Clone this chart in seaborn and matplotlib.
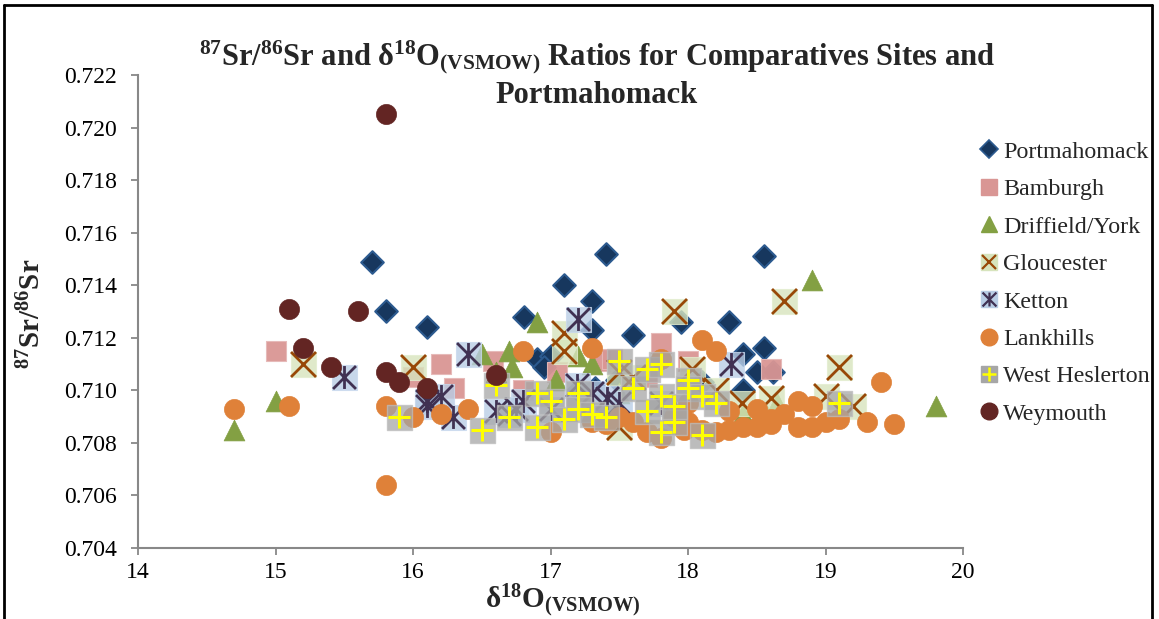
import numpy as np
import pandas as pd
import matplotlib
matplotlib.use("Agg")
import matplotlib.pyplot as plt
import seaborn as sns
from matplotlib.path import Path
from matplotlib.lines import Line2D
from matplotlib.legend_handler import HandlerTuple

# ---------------- data ----------------
port_x = [15.7, 15.8, 16.1, 16.81, 16.9, 17.0, 17.1, 17.3, 17.3, 17.4, 17.6, 17.95, 18.3, 18.4,
          18.55, 18.55, 18.5, 18.62, 18.4, 17.2, 17.48, 16.95, 18.1, 17.32, 17.4]
port_y = [0.7149, 0.7130, 0.7124, 0.7128, 0.7112, 0.7113, 0.7140, 0.7134, 0.7123, 0.7152, 0.7121,
          0.7126, 0.7126, 0.7114, 0.7116, 0.7151, 0.7107, 0.7107, 0.7100, 0.7100, 0.7104, 0.7109,
          0.7103, 0.7101, 0.7096]

bamb_x = [15.0, 16.2, 16.0, 16.58, 16.8, 17.05, 17.36, 17.45, 17.8, 18.0, 18.6, 17.7, 16.3]
bamb_y = [0.7115, 0.7110, 0.7105, 0.7111, 0.7100, 0.7107, 0.7111, 0.7112, 0.7118, 0.7111,
          0.7108, 0.7105, 0.7101]

drif_x = [14.7, 15.0, 16.5, 16.7, 16.72, 16.9, 17.04, 17.2, 17.3, 16.6, 17.5, 18.4, 18.57,
          18.65, 18.9, 19.8, 17.9]
drif_y = [0.7085, 0.7096, 0.7114, 0.7115, 0.7109, 0.7126, 0.7104, 0.7113, 0.7110, 0.7107,
          0.7099, 0.7091, 0.7091, 0.7095, 0.7142, 0.7094, 0.7093]

glou_x = [15.2, 16.0, 17.1, 17.1, 17.5, 17.6, 17.5, 17.9, 18.03, 18.2, 18.39, 18.6, 18.7,
          19.0, 19.1, 19.2, 17.3]
glou_y = [0.7110, 0.7109, 0.7122, 0.7115, 0.7107, 0.7105, 0.7086, 0.7130, 0.7108, 0.7100,
          0.7095, 0.7097, 0.7134, 0.7098, 0.7109, 0.7094, 0.7095]

kett_x = [15.5, 16.1, 16.2, 16.1, 16.29, 16.4, 16.6, 16.7, 16.8, 16.75, 17.19, 17.2, 17.41,
          17.5, 17.3, 18.31, 17.0, 17.8]
kett_y = [0.7105, 0.7096, 0.7098, 0.7094, 0.7090, 0.7114, 0.7092, 0.7091, 0.7096, 0.7093,
          0.7102, 0.7127, 0.7097, 0.7095, 0.7099, 0.7110, 0.7093, 0.7095]

lank_x = [14.7, 15.1, 15.8, 15.8, 16.0, 16.2, 16.4, 16.8, 17.0, 17.3, 17.3, 17.5, 17.6, 17.7,
          17.8, 17.8, 17.97, 18.1, 18.2, 18.1, 18.2, 18.3, 18.4, 18.5, 18.5, 18.6, 18.7, 18.8,
          18.8, 18.9, 18.9, 19.0, 19.1, 19.3, 19.4, 19.5, 18.0, 17.9, 18.3, 18.6, 18.0, 17.4]
lank_y = [0.7093, 0.7094, 0.7094, 0.7064, 0.7090, 0.7091, 0.7093, 0.7115, 0.7084, 0.7116,
          0.7088, 0.7090, 0.7088, 0.7084, 0.7082, 0.7112, 0.7085, 0.7119, 0.7115, 0.7085,
          0.7084, 0.7085, 0.7086, 0.7086, 0.7093, 0.7089, 0.7091, 0.7096, 0.7086, 0.7094,
          0.7086, 0.7088, 0.7089, 0.7088, 0.7103, 0.7087, 0.7088, 0.7090, 0.7092, 0.7087,
          0.7095, 0.7087]

west_x = [15.9, 16.5, 16.6, 16.7, 16.9, 16.9, 17.0, 17.1, 17.2, 17.2, 17.3, 17.5, 17.6, 17.7,
          17.8, 17.8, 17.8, 17.9, 18.0, 18.0, 18.1, 18.1, 18.2, 19.1, 17.7, 17.9, 17.4]
west_y = [0.7090, 0.7085, 0.7102, 0.7090, 0.7099, 0.7086, 0.7096, 0.7089, 0.7099, 0.7093,
          0.7091, 0.7111, 0.7101, 0.7108, 0.7110, 0.7098, 0.7084, 0.7088, 0.7104, 0.7101,
          0.7098, 0.7083, 0.7095, 0.7095, 0.7092, 0.7094, 0.7090]

weym_x = [15.1, 15.2, 15.4, 15.6, 15.8, 15.8, 15.9, 16.1, 16.6]
weym_y = [0.7131, 0.7116, 0.7109, 0.7130, 0.7205, 0.7107, 0.7103, 0.7101, 0.7106]

site_labels = ["Portmahomack", "Bamburgh", "Driffield/York", "Gloucester", "Ketton",
               "Lankhills", "West Heslerton", "Weymouth"]
x_ticks = [14, 15, 16, 17, 18, 19, 20]
y_ticks = [0.704, 0.706, 0.708, 0.710, 0.712, 0.714, 0.716, 0.718, 0.720, 0.722]

# ---------------- style ----------------
sns.set_style("ticks")
plt.rcParams["font.family"] = ["Liberation Serif", "DejaVu Serif"]
plt.rcParams["mathtext.fontset"] = "custom"
plt.rcParams["mathtext.rm"] = "Liberation Serif"
plt.rcParams["mathtext.it"] = "Liberation Serif:italic"
plt.rcParams["mathtext.bf"] = "Liberation Serif:bold"

C_PORT, C_PORT_E = "#17375E", "#2C5A8F"
C_BAMB = "#D99694"
C_DRIF = "#83A043"
C_GLOU_F, C_GLOU_X = "#D7E4BD", "#984807"
C_KETT_F, C_KETT_X = "#B9CDE5", "#403152"
C_LANK = "#DF8139"
C_WEST_F, C_WEST_X = "#A6A6A6", "#FFFF00"
C_WEYM = "#632523"

ast_path = Path([(0, -1), (0, 1), (-1, -1), (1, 1), (-1, 1), (1, -1)],
                [Path.MOVETO, Path.LINETO] * 3)

fig = plt.figure(figsize=(11.59, 6.19), dpi=100)
W, H = 1159, 619
ax = fig.add_axes([138 / W, 1 - 548 / H, (963 - 138) / W, (548 - 75) / H])

BIG = 18.0 ** 2
SMALL = 14.5 ** 2


def df(x, y):
    return pd.DataFrame({"d18O": x, "Sr": y})


sns.scatterplot(data=df(port_x, port_y), x="d18O", y="Sr", marker="D", s=11.5 ** 2,
                color=C_PORT, edgecolor=C_PORT_E, linewidth=1.5, ax=ax, zorder=3)
sns.scatterplot(data=df(bamb_x, bamb_y), x="d18O", y="Sr", marker="s", s=SMALL,
                color=C_BAMB, edgecolor="#E6B9B8", linewidth=0.8, alpha=0.95, ax=ax, zorder=4)
sns.scatterplot(data=df(drif_x, drif_y), x="d18O", y="Sr", marker="^", s=15 ** 2,
                color=C_DRIF, edgecolor=C_DRIF, linewidth=0.5, ax=ax, zorder=5)
sns.scatterplot(data=df(glou_x, glou_y), x="d18O", y="Sr", marker="s", s=BIG,
                color=C_GLOU_F, edgecolor="#E3EDCF", linewidth=0.8, alpha=0.8, ax=ax, zorder=6)
sns.scatterplot(data=df(glou_x, glou_y), x="d18O", y="Sr", marker="x", s=BIG,
                color=C_GLOU_X, linewidth=2.0, ax=ax, zorder=6)
sns.scatterplot(data=df(kett_x, kett_y), x="d18O", y="Sr", marker="s", s=BIG,
                color=C_KETT_F, edgecolor="#C9D9EE", linewidth=0.8, alpha=0.8, ax=ax, zorder=7)
sns.scatterplot(data=df(kett_x, kett_y), x="d18O", y="Sr", marker=ast_path, s=(16.5) ** 2,
                color=C_KETT_X, edgecolor=C_KETT_X, linewidth=2.0, ax=ax, zorder=7)
sns.scatterplot(data=df(lank_x, lank_y), x="d18O", y="Sr", marker="o", s=SMALL,
                color=C_LANK, edgecolor=C_LANK, linewidth=0.5, ax=ax, zorder=8)
sns.scatterplot(data=df(west_x, west_y), x="d18O", y="Sr", marker="s", s=BIG,
                color=C_WEST_F, edgecolor="#BDBDBD", linewidth=1.0, alpha=0.75, ax=ax, zorder=9)
sns.scatterplot(data=df(west_x, west_y), x="d18O", y="Sr", marker="+", s=(16) ** 2,
                color=C_WEST_X, linewidth=2.2, ax=ax, zorder=9)
sns.scatterplot(data=df(weym_x, weym_y), x="d18O", y="Sr", marker="o", s=SMALL,
                color=C_WEYM, edgecolor=C_WEYM, linewidth=0.5, ax=ax, zorder=10)

ax.set_xlim(14, 20)
ax.set_ylim(0.704, 0.722)
ax.set_xticks(x_ticks)
ax.set_xticklabels([str(t) for t in x_ticks])
ax.set_yticks(y_ticks)
ax.set_yticklabels([f"{t:.3f}" for t in y_ticks])
for s in ["top", "right"]:
    ax.spines[s].set_visible(False)
for s in ["left", "bottom"]:
    ax.spines[s].set_color("#888888")
    ax.spines[s].set_linewidth(1.5)
ax.tick_params(axis="both", direction="out", length=5, width=1.3, color="#888888",
               labelsize=17, labelcolor="black")
ax.tick_params(axis="y", pad=10)
ax.tick_params(axis="x", pad=5)
ax.set_xlabel("")
ax.set_ylabel("")

fig.text(563 / W, 1 - 601 / H, r"δ$^{\mathbf{18}}$O$_{\mathbf{(VSMOW)}}$", ha="center", va="center",
         fontsize=21, fontweight="bold")
fig.text(32 / W, 1 - 314 / H, r"$^{\mathbf{87}}$Sr/$^{\mathbf{86}}$Sr", ha="center", va="center",
         rotation=90, fontsize=21, fontweight="bold")

title = (r"$^{\mathbf{87}}$Sr/$^{\mathbf{86}}$Sr and δ$^{\mathbf{18}}$O$_{\mathbf{(VSMOW)}}$ "
         r"Ratios for Comparatives Sites and" + "\nPortmahomack")
fig.text(597 / W, 1 - 74 / H, title, ha="center", va="center", fontsize=22,
         fontweight="bold", linespacing=1.2)

# legend
def ml(marker, size, fc, ec, lw=1.0, alpha=1.0):
    return Line2D([], [], linestyle="none", marker=marker, markersize=size,
                  markerfacecolor=fc, markeredgecolor=ec, markeredgewidth=lw, alpha=alpha)

handles = [
    ml("D", 9, C_PORT, C_PORT_E, 1.2),
    ml("s", 11, C_BAMB, C_BAMB),
    ml("^", 11, C_DRIF, C_DRIF),
    (ml("s", 11, C_GLOU_F, C_GLOU_F), ml("x", 10, C_GLOU_X, C_GLOU_X, 1.6)),
    (ml("s", 11, C_KETT_F, C_KETT_F), ml(ast_path, 10, C_KETT_X, C_KETT_X, 1.6)),
    ml("o", 12, C_LANK, C_LANK),
    (ml("s", 11, C_WEST_F, C_WEST_F), ml("+", 10, C_WEST_X, C_WEST_X, 1.8)),
    ml("o", 12, C_WEYM, C_WEYM),
]
fig.legend(handles, site_labels, loc="upper left", bbox_to_anchor=(979 / W, 1 - 141 / H),
           frameon=False, fontsize=17.3, handlelength=0.8, handletextpad=0.2,
           labelspacing=0.65, borderpad=0, borderaxespad=0,
           handler_map={tuple: HandlerTuple(ndivide=1, pad=0)})

# outer frame
fr = dict(color="black", linewidth=2.0, transform=fig.transFigure)
fig.add_artist(Line2D([4 / W, 4 / W], [0, 1 - 5 / H], **fr))
fig.add_artist(Line2D([4 / W, 1152 / W], [1 - 5 / H, 1 - 5 / H], **fr))
fig.add_artist(Line2D([1152 / W, 1152 / W], [0, 1 - 5 / H], **fr))

fig.savefig("out.png", dpi=100)
